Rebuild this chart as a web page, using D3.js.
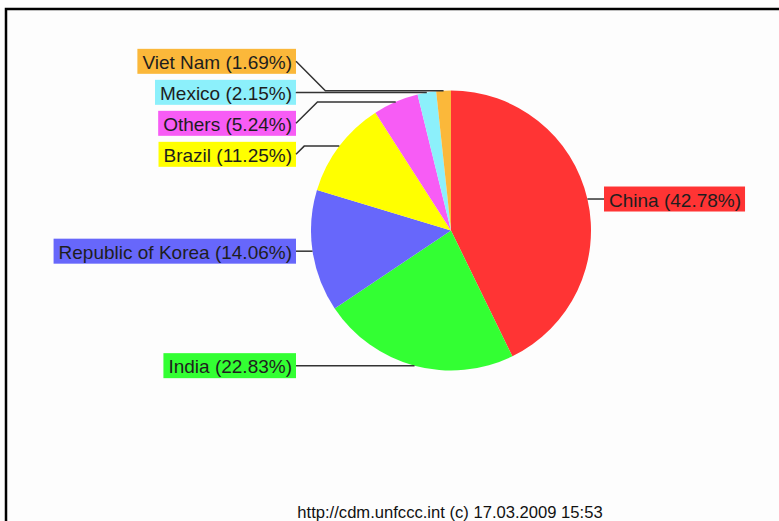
<!DOCTYPE html>
<html>
<head>
<meta charset="utf-8">
<script src="https://cdn.jsdelivr.net/npm/d3@7"></script>
<style>
  html, body { margin: 0; padding: 0; background: #fdfdfd; }
  svg { display: block; }
  text { font-family: "Liberation Sans", Arial, sans-serif; }
</style>
</head>
<body>
<svg id="chart" width="779" height="521"></svg>
<script>
// ---- data ----
const categories = ["China", "India", "Republic of Korea", "Brazil", "Others", "Mexico", "Viet Nam"];
const shares = [42.78, 22.83, 14.06, 11.25, 5.24, 2.15, 1.69];
const colors = ["#ff3434", "#33ff33", "#6767fb", "#ffff00", "#f75cf5", "#8cf0fb", "#fbb83a"];
const footer = "http://cdm.unfccc.int (c) 17.03.2009 15:53";

const data = categories.map((c, i) => ({ name: c, value: shares[i], color: colors[i] }));

const svg = d3.select("#chart");
const W = 779, H = 521;
svg.append("rect").attr("width", W).attr("height", H).attr("fill", "#fdfdfd");

// frame
svg.append("path")
  .attr("d", `M6,${H + 5} L6,9 L${W + 5},9`)
  .attr("fill", "none").attr("stroke", "#000").attr("stroke-width", 2.5);

const cx = 451, cy = 230.5, R = 140;
const g = svg.append("g").attr("transform", `translate(${cx},${cy})`);

const pie = d3.pie().value(d => d.value).sort(null);
const arcs = pie(data);
const arc = d3.arc().innerRadius(0).outerRadius(R);

g.selectAll("path.slice").data(arcs).enter().append("path")
  .attr("class", "slice")
  .attr("d", arc)
  .attr("fill", d => d.data.color);

// label layout
const fontSize = 19, boxH = 25, padL = 5, padR = 4, spacing = 31;
const leftEdge = 296, rightEdge = 604;
arcs.forEach(a => {
  const m = (a.startAngle + a.endAngle) / 2;
  a.px = cx + R * Math.sin(m);
  a.py = cy - R * Math.cos(m);
  a.side = a.px >= cx ? "right" : "left";
  a.ly = a.py;
});

// resolve overlaps per side: group and center around mean of desired
["left", "right"].forEach(side => {
  const items = arcs.filter(a => a.side === side).sort((a, b) => a.py - b.py);
  let groups = items.map(a => [a]);
  let changed = true;
  const place = grp => {
    const mean = d3.mean(grp, a => a.py);
    const start = mean - (grp.length - 1) * spacing / 2;
    grp.forEach((a, i) => a.ly = start + i * spacing);
  };
  groups.forEach(place);
  while (changed) {
    changed = false;
    for (let i = 0; i < groups.length - 1; i++) {
      const a = groups[i], b = groups[i + 1];
      if (b[0].ly - a[a.length - 1].ly < spacing) {
        groups.splice(i, 2, a.concat(b));
        place(groups[i]);
        changed = true;
        break;
      }
    }
  }
});

const labels = svg.append("g");
arcs.forEach(a => {
  const txt = `${a.data.name} (${a.data.value.toFixed(2)}%)`;
  const lg = labels.append("g");
  const t = lg.append("text")
    .attr("font-size", fontSize)
    .attr("fill", "#1e1e1e")
    .attr("dominant-baseline", "central")
    .text(txt);
  const tw = t.node().getComputedTextLength();
  const boxW = tw + padL + padR;
  let bx, elbowX, edgeX;
  const dy = Math.abs(a.ly - a.py);
  if (a.side === "left") {
    bx = leftEdge - boxW;
    edgeX = leftEdge;
    elbowX = leftEdge + dy;
  } else {
    bx = rightEdge;
    edgeX = rightEdge;
    elbowX = rightEdge - dy;
  }
  lg.insert("rect", "text")
    .attr("x", bx).attr("y", a.ly - boxH / 2)
    .attr("width", boxW).attr("height", boxH)
    .attr("fill", a.data.color);
  t.attr("x", bx + padL).attr("y", a.ly + 1);
  lg.append("path")
    .attr("d", `M${a.px},${a.py} L${elbowX},${a.py} L${edgeX},${a.ly}`)
    .attr("fill", "none")
    .attr("stroke", "#333")
    .attr("stroke-width", 1.5);
});

svg.append("text")
  .attr("x", 450).attr("y", 518)
  .attr("text-anchor", "middle")
  .attr("font-size", 16.6)
  .attr("fill", "#111")
  .text(footer);
</script>
</body>
</html>
